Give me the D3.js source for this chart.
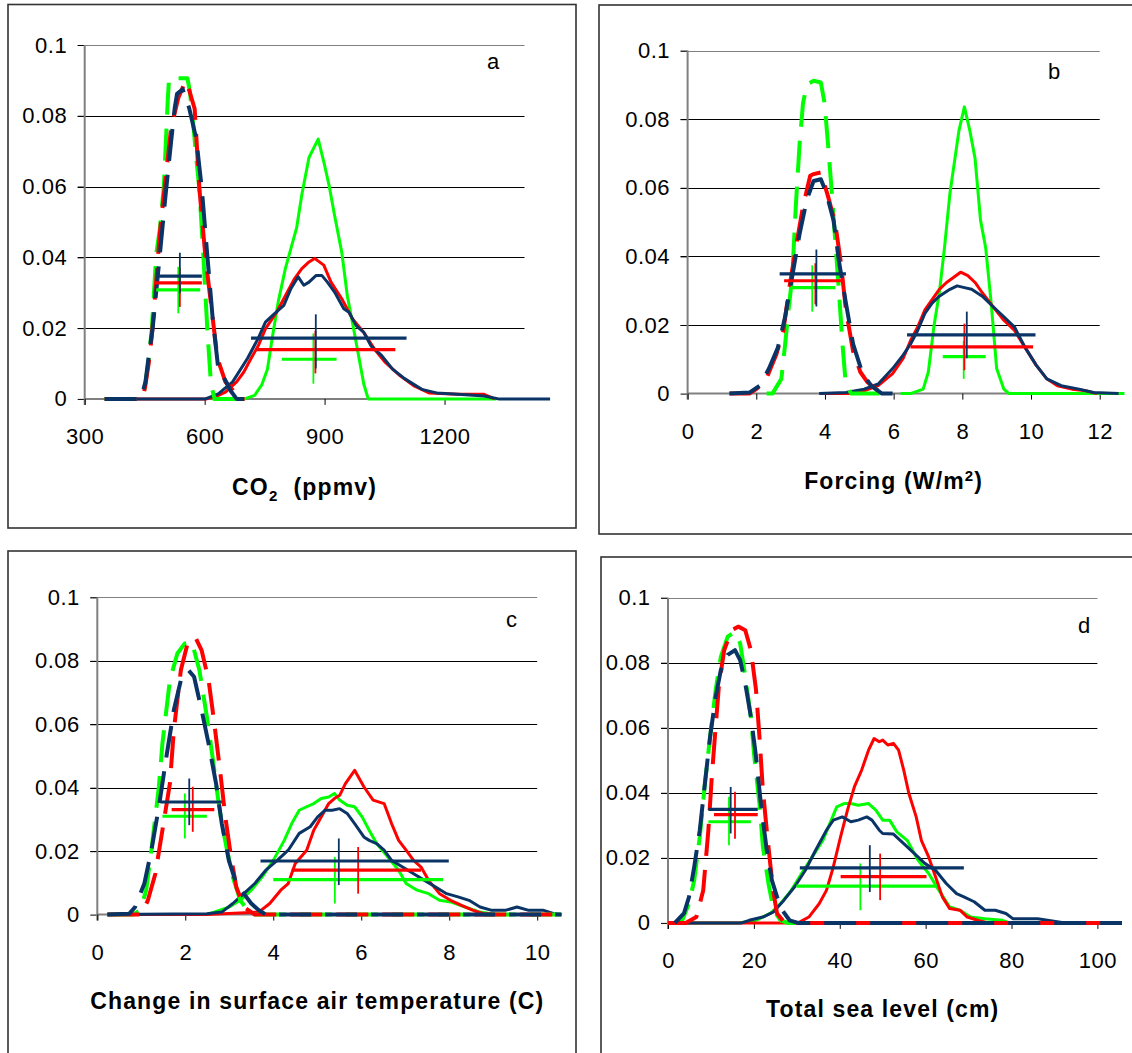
<!DOCTYPE html>
<html><head><meta charset="utf-8">
<script src="https://cdn.jsdelivr.net/npm/d3@7"></script>
<style>
body{margin:0;background:#fff}
svg{display:block}
text{font-family:"Liberation Sans",Arial,sans-serif}
</style>
</head><body>
<svg id="chart" width="1132" height="1053"></svg>
<script>
// ---------- tick labels ----------
const yTicks = [0, 0.02, 0.04, 0.06, 0.08, 0.1];
const aTicks = [300, 600, 900, 1200];
const bTicks = [0, 2, 4, 6, 8, 10, 12];
const cTicks = [0, 2, 4, 6, 8, 10];
const dTicks = [0, 20, 40, 60, 80, 100];

// ---------- panel a : CO2 (ppmv) ----------
const a_dash_green = [[350,0],[440,0],[450,0.003],[460,0.011],[468,0.02],[479,0.041],[488,0.048],[498,0.06],[504,0.075],[508,0.085],[511,0.0906],[557,0.0906],[563,0.087],[572,0.077],[580,0.067],[587,0.059],[597,0.04],[607,0.019],[616,0.004],[625,0],[700,0]];
const a_dash_red = [[350,0],[445,0],[452,0.004],[460,0.01],[468,0.018],[478,0.032],[488,0.047],[502,0.062],[516,0.0764],[534,0.085],[552,0.0898],[562,0.087],[575,0.082],[587,0.0592],[602,0.0401],[616,0.0267],[632,0.0115],[652,0.0048],[679,0.0014],[696,0],[700,0]];
const a_dash_navy = [[350,0],[440,0],[452,0.0048],[460,0.012],[470,0.02],[489,0.042],[502,0.0573],[516,0.0726],[525,0.0821],[531,0.0862],[545,0.0875],[561,0.0823],[579,0.0735],[593,0.0592],[607,0.0401],[620,0.0229],[634,0.0086],[652,0.0052],[665,0.0023],[680,0],[700,0]];
const a_solid_green = [[620,0],[700,0],[725,0.001],[743,0.004],[757,0.0084],[770,0.0179],[784,0.0274],[802,0.0369],[816,0.0426],[830,0.0483],[843,0.0577],[861,0.0682],[884,0.0734],[898,0.067],[912,0.0599],[925,0.0518],[943,0.0414],[957,0.029],[970,0.0214],[984,0.0128],[998,0.0042],[1009,0],[1330,0]];
const a_solid_red = [[350,0],[605,0],[625,0.0005],[652,0.0019],[680,0.0048],[698,0.0076],[716,0.0114],[734,0.015],[752,0.0198],[780,0.0245],[807,0.0302],[825,0.034],[843,0.0368],[861,0.0387],[875,0.0397],[898,0.0378],[916,0.033],[943,0.0283],[970,0.0226],[998,0.0188],[1025,0.014],[1052,0.0103],[1089,0.0065],[1125,0.0036],[1161,0.0017],[1233,0.0013],[1299,0.0013],[1325,0]];
const a_solid_navy = [[350,0],[602,0],[634,0.0014],[670,0.0048],[707,0.0114],[734,0.0171],[752,0.0217],[770,0.0236],[798,0.0264],[816,0.0312],[834,0.0345],[848,0.0321],[861,0.033],[879,0.0349],[893,0.0349],[907,0.033],[925,0.0302],[948,0.0255],[961,0.0245],[979,0.0207],[998,0.0188],[1016,0.015],[1043,0.0122],[1070,0.0084],[1097,0.006],[1116,0.0046],[1143,0.0027],[1180,0.0017],[1234,0.0013],[1299,0.0008],[1335,0],[1464,0]];
// crosshair markers, order: green, red, navy (low scenario), green, red, navy (high scenario)
const aCrossMean   = [534, 538, 538, 872, 877, 878];
const aCrossLow    = [479, 476, 486, 793, 730, 716];
const aCrossHigh   = [589, 593, 593, 930, 1077, 1105];
const aCrossLevel  = [0.0308, 0.0328, 0.0347, 0.0112, 0.0139, 0.0172];
const aCrossTop    = [0.0373, 0.037, 0.0413, 0.0185, 0.0192, 0.0239];
const aCrossBottom = [0.0242, 0.026, 0.0298, 0.0043, 0.0072, 0.0086];

// ---------- panel b : Forcing (W/m2) ----------
const b_dash_green = [[2.3,0],[2.47,0],[2.73,0.0043],[2.84,0.0144],[2.94,0.0244],[3.05,0.0344],[3.15,0.0545],[3.26,0.0726],[3.36,0.0846],[3.47,0.0901],[3.67,0.0912],[3.88,0.0907],[3.99,0.0846],[4.09,0.0726],[4.2,0.0585],[4.3,0.0445],[4.41,0.0294],[4.51,0.0144],[4.61,0.0023],[4.77,0],[5.9,0]];
const b_dash_red = [[1.22,0],[1.8,0],[2.0,0.0013],[2.27,0.0038],[2.58,0.0113],[2.79,0.0184],[2.94,0.0294],[3.15,0.0425],[3.36,0.0545],[3.57,0.0635],[3.67,0.064],[3.88,0.0645],[4.09,0.0575],[4.3,0.0495],[4.46,0.0384],[4.61,0.0244],[4.82,0.0123],[5.03,0.0063],[5.24,0.0033],[5.55,0.0008],[5.76,0]];
const b_dash_navy = [[1.22,0],[1.8,0.0003],[2.1,0.0023],[2.37,0.0073],[2.63,0.0134],[2.84,0.0224],[3.05,0.0344],[3.26,0.0465],[3.47,0.0565],[3.67,0.062],[3.88,0.0625],[4.04,0.0585],[4.25,0.0505],[4.41,0.0384],[4.61,0.0264],[4.82,0.0144],[5.08,0.0063],[5.34,0.0023],[5.66,0],[5.97,0]];
const b_solid_green = [[6.2,0],[6.49,0],[6.86,0.0013],[7.01,0.0063],[7.17,0.0194],[7.33,0.0294],[7.48,0.0425],[7.64,0.0585],[7.8,0.0696],[7.9,0.0766],[8.06,0.0836],[8.22,0.0766],[8.37,0.0686],[8.53,0.0505],[8.68,0.0425],[8.84,0.0264],[9.0,0.0073],[9.21,0.0013],[9.36,0],[12.72,0]];
const b_solid_red = [[3.88,0],[4.72,0],[5.14,0.0008],[5.55,0.0023],[5.97,0.0058],[6.28,0.0103],[6.49,0.0154],[6.7,0.0194],[6.91,0.0244],[7.12,0.0274],[7.33,0.0304],[7.54,0.0324],[7.75,0.0339],[7.95,0.0354],[8.16,0.0344],[8.37,0.0324],[8.58,0.0294],[8.89,0.0254],[9.21,0.0214],[9.52,0.0184],[9.83,0.0134],[10.15,0.0083],[10.46,0.0043],[10.77,0.0023],[11.19,0.0013],[11.61,0.0008],[11.92,0]];
const b_solid_navy = [[3.83,0],[4.61,0.0003],[5.14,0.0013],[5.55,0.0028],[5.97,0.0073],[6.28,0.0113],[6.49,0.0144],[6.7,0.0184],[6.91,0.0234],[7.12,0.0264],[7.33,0.0284],[7.64,0.0304],[7.85,0.0314],[8.06,0.0309],[8.27,0.0304],[8.58,0.0284],[8.89,0.0254],[9.21,0.0224],[9.52,0.0194],[9.83,0.0134],[10.15,0.0083],[10.46,0.0043],[10.88,0.0023],[11.4,0.0013],[11.82,0.0003],[12.55,0]];
const bCrossMean   = [3.63, 3.72, 3.75, 8.04, 8.06, 8.13];
const bCrossLow    = [3.0, 2.81, 2.68, 7.43, 6.49, 6.39];
const bCrossHigh   = [4.3, 4.56, 4.61, 8.68, 10.06, 10.13];
const bCrossLevel  = [0.0309, 0.0329, 0.0349, 0.0108, 0.0136, 0.0171];
const bCrossTop    = [0.0374, 0.038, 0.042, 0.0154, 0.0204, 0.0239];
const bCrossBottom = [0.0239, 0.026, 0.0254, 0.0043, 0.0068, 0.0103];

// ---------- panel c : surface air temperature (C) ----------
const c_dash_green = [[0.23,0],[0.81,0],[0.98,0.0014],[1.11,0.0077],[1.23,0.0203],[1.4,0.0403],[1.48,0.0539],[1.65,0.0739],[1.82,0.0823],[1.99,0.0855],[2.15,0.086],[2.32,0.0771],[2.49,0.0624],[2.62,0.0497],[2.74,0.0371],[2.83,0.0287],[2.95,0.0203],[3.08,0.0119],[3.25,0.0045],[3.5,0],[10.55,0]];
const c_dash_red = [[0.23,0],[1.0,0],[1.15,0.0045],[1.32,0.0129],[1.48,0.0266],[1.65,0.0413],[1.74,0.0581],[1.9,0.0771],[2.07,0.0865],[2.24,0.0871],[2.37,0.0834],[2.53,0.0739],[2.66,0.0603],[2.79,0.0455],[2.91,0.0308],[3.04,0.0182],[3.16,0.0087],[3.33,0.0024],[3.58,0],[10.55,0]];
const c_dash_navy = [[0.23,0],[0.73,0.0003],[0.86,0.0024],[1.07,0.0098],[1.23,0.0203],[1.4,0.034],[1.57,0.0497],[1.74,0.0645],[1.9,0.0739],[2.07,0.0771],[2.2,0.075],[2.37,0.0645],[2.53,0.0539],[2.7,0.0413],[2.83,0.0287],[2.99,0.0171],[3.16,0.0098],[3.33,0.0066],[3.5,0.0035],[3.67,0.0014],[3.83,0],[10.55,0]];
const c_solid_green = [[0.23,0],[2.49,0],[3.0,0.0024],[3.25,0.0045],[3.5,0.0077],[3.75,0.0119],[4.0,0.0171],[4.25,0.0234],[4.42,0.0287],[4.59,0.0329],[4.76,0.034],[4.92,0.035],[5.09,0.0366],[5.26,0.0371],[5.39,0.0382],[5.51,0.0361],[5.68,0.0345],[5.85,0.034],[6.02,0.0308],[6.18,0.0266],[6.35,0.0224],[6.6,0.0182],[6.85,0.014],[7.02,0.0098],[7.27,0.0077],[7.53,0.0066],[7.78,0.0045],[8.03,0.004],[8.36,0.0024],[8.7,0.0008],[8.95,0.0003],[9.2,0],[10.55,0]];
const c_solid_red = [[0.23,0],[2.49,0],[3.67,0.0008],[3.92,0.0035],[4.17,0.0077],[4.34,0.0098],[4.5,0.0161],[4.76,0.0203],[4.92,0.0266],[5.09,0.0308],[5.26,0.035],[5.39,0.0366],[5.51,0.0376],[5.64,0.0413],[5.85,0.0455],[6.06,0.0403],[6.27,0.0361],[6.52,0.035],[6.69,0.0287],[6.85,0.0234],[7.02,0.0203],[7.19,0.0171],[7.36,0.015],[7.53,0.0108],[7.78,0.0066],[8.03,0.0045],[8.28,0.0029],[8.53,0.0014],[8.78,0.0003],[9.04,0],[10.55,0]];
const c_solid_navy = [[0.23,0],[2.49,0.0003],[2.83,0.0008],[3.08,0.0035],[3.33,0.0066],[3.58,0.0098],[3.83,0.014],[4.09,0.0171],[4.34,0.0203],[4.59,0.0256],[4.84,0.0277],[5.01,0.0308],[5.18,0.0329],[5.34,0.0329],[5.51,0.0334],[5.68,0.0319],[5.85,0.0287],[6.06,0.0245],[6.18,0.0234],[6.35,0.0224],[6.52,0.0203],[6.69,0.0171],[6.94,0.015],[7.19,0.0129],[7.44,0.0108],[7.69,0.0087],[7.94,0.0066],[8.2,0.0056],[8.45,0.0045],[8.7,0.0024],[8.95,0.0014],[9.29,0.0014],[9.54,0.0024],[9.79,0.0014],[10.13,0.0014],[10.38,0.0003],[10.55,0]];
const cCrossMean   = [1.99, 2.17, 2.09, 5.4, 5.93, 5.49];
const cCrossLow    = [1.48, 1.69, 1.44, 4.0, 4.42, 3.71];
const cCrossHigh   = [2.49, 2.66, 2.83, 7.86, 7.36, 7.99];
const cCrossLevel  = [0.031, 0.0331, 0.0355, 0.011, 0.014, 0.0169];
const cCrossTop    = [0.0382, 0.0403, 0.0429, 0.0182, 0.0213, 0.024];
const cCrossBottom = [0.024, 0.0261, 0.0282, 0.0035, 0.0066, 0.0093];

// ---------- panel d : total sea level (cm) ----------
const d_dash_green = [[0,0],[2,0],[3.3,0.0008],[4.9,0.0059],[6.1,0.0131],[7.4,0.0265],[8.6,0.0429],[9.8,0.0572],[11.1,0.0716],[12.3,0.0818],[13.9,0.088],[15.6,0.0895],[16.8,0.086],[18.0,0.0757],[19.3,0.0634],[20.1,0.0511],[21.3,0.0367],[22.1,0.0234],[23.4,0.0121],[24.6,0.0039],[26.2,0.0008],[27.9,0],[105.7,0]];
const d_dash_red = [[0,0],[4.1,0],[6.6,0.0018],[8.2,0.01],[9.4,0.0285],[10.2,0.0449],[11.1,0.0603],[11.9,0.0736],[13.1,0.0839],[14.8,0.09],[16.4,0.0911],[18.0,0.09],[19.3,0.0839],[20.5,0.0716],[21.3,0.0572],[22.1,0.0408],[23.0,0.0285],[23.8,0.0183],[24.6,0.009],[25.4,0.0029],[27.0,0.0003],[28.7,0],[105.7,0]];
const d_dash_navy = [[1.6,0],[3.7,0.0029],[4.9,0.008],[6.1,0.0172],[7.4,0.0285],[8.6,0.0429],[9.8,0.0572],[11.1,0.0695],[12.3,0.0777],[13.9,0.0824],[15.6,0.0839],[16.8,0.0808],[18.0,0.0736],[19.3,0.0634],[20.5,0.0511],[21.7,0.0357],[23.0,0.0224],[24.2,0.0131],[25.4,0.008],[26.6,0.0039],[28.3,0.0008],[30.3,0],[105.7,0]];
const d_solid_green = [[0,0],[16.4,0],[20.5,0.0008],[23.8,0.0029],[26.2,0.0059],[28.7,0.01],[31.1,0.0152],[33.6,0.0203],[36.1,0.0254],[37.7,0.0306],[39.3,0.0357],[41.0,0.0367],[42.6,0.0367],[44.3,0.0362],[46.7,0.0367],[48.4,0.0347],[50.0,0.0316],[51.6,0.0316],[53.3,0.028],[55.7,0.0254],[58.2,0.0193],[60.7,0.0152],[63.1,0.01],[65.6,0.0049],[68.0,0.0039],[70.5,0.0018],[73.8,0.0013],[77.9,0.0008],[79.5,0]];
const d_solid_red = [[0,0],[30.3,0],[32.8,0.0018],[35.2,0.0059],[36.9,0.01],[38.5,0.0172],[40.2,0.0265],[41.8,0.0347],[43.4,0.0418],[45.1,0.047],[46.7,0.0531],[48.0,0.0567],[49.2,0.0557],[50.0,0.0562],[51.2,0.0547],[52.5,0.0552],[53.7,0.0531],[54.9,0.047],[56.1,0.0398],[57.8,0.0326],[59.0,0.0254],[60.7,0.0203],[62.3,0.0142],[63.9,0.008],[65.6,0.0044],[68.0,0.0039],[69.7,0.0018],[72.1,0.0008],[74.6,0]];
const d_solid_navy = [[0,0],[17.2,0],[18.9,0.0008],[22.1,0.0018],[24.6,0.0034],[27.0,0.007],[29.5,0.0111],[32.0,0.0162],[34.4,0.0224],[36.9,0.0285],[38.5,0.0316],[40.6,0.0326],[42.6,0.0311],[44.3,0.0316],[46.3,0.0326],[47.5,0.0316],[49.2,0.0285],[50.0,0.0275],[52.5,0.0273],[54.9,0.0244],[57.4,0.0213],[59.8,0.0183],[62.3,0.0162],[64.8,0.0121],[67.2,0.009],[68.9,0.008],[71.3,0.0065],[73.8,0.0039],[76.2,0.0039],[78.7,0.0029],[80.3,0.0013],[86.1,0.0013],[91.0,0.0003],[92.5,0],[105.7,0]];
const dCrossMean   = [14.2, 15.6, 14.6, 44.8, 49.4, 47.0];
const dCrossLow    = [9.4, 10.7, 9.4, 29.9, 40.2, 30.7];
const dCrossHigh   = [19.3, 20.9, 20.9, 62.7, 60.2, 68.9];
const dCrossLevel  = [0.0311, 0.0333, 0.0349, 0.0113, 0.0142, 0.0169];
const dCrossTop    = [0.0388, 0.0403, 0.0418, 0.0183, 0.0213, 0.0239];
const dCrossBottom = [0.0239, 0.0259, 0.0275, 0.0039, 0.007, 0.0095];

// ---------- styling / layout ----------
const GREEN = "#00ff00", RED = "#ff0000", NAVY = "#0b3466";
const seriesColors = [GREEN, RED, NAVY];
const crossColors = [GREEN, RED, NAVY, GREEN, RED, NAVY];

const panels = [
  { letter:"a", frame:[8,4.5,576,528], xr:[84.7,524.5], yr:[398.9,45], xdom:[300,1400], ticks:aTicks,
    dashed:[a_dash_green,a_dash_red,a_dash_navy], solid:[a_solid_green,a_solid_red,a_solid_navy],
    cross:[aCrossMean,aCrossLow,aCrossHigh,aCrossLevel,aCrossTop,aCrossBottom],
    title:"co2", titleY:495, letterXY:[487,69] },
  { letter:"b", frame:[599,5,1145,534], xr:[687.6,1099.7], yr:[393.6,50.6], xdom:[0,12], ticks:bTicks,
    dashed:[b_dash_green,b_dash_red,b_dash_navy], solid:[b_solid_green,b_solid_red,b_solid_navy],
    cross:[bCrossMean,bCrossLow,bCrossHigh,bCrossLevel,bCrossTop,bCrossBottom],
    title:"forcing", titleY:489, letterXY:[1048,79] },
  { letter:"c", frame:[8,551,576,1065], xr:[97.3,537.2], yr:[914.6,597.4], xdom:[0,10], ticks:cTicks,
    dashed:[c_dash_green,c_dash_red,c_dash_navy], solid:[c_solid_green,c_solid_red,c_solid_navy],
    cross:[cCrossMean,cCrossLow,cCrossHigh,cCrossLevel,cCrossTop,cCrossBottom],
    title:"temp", titleY:1008.5, letterXY:[506,627] },
  { letter:"d", frame:[601,557,1145,1065], xr:[668,1097.4], yr:[922.9,597.7], xdom:[0,100], ticks:dTicks,
    dashed:[d_dash_green,d_dash_red,d_dash_navy], solid:[d_solid_green,d_solid_red,d_solid_navy],
    cross:[dCrossMean,dCrossLow,dCrossHigh,dCrossLevel,dCrossTop,dCrossBottom],
    title:"sea", titleY:1017, letterXY:[1078,633] }
];

const svg = d3.select("#chart");
const TICKFS = 22, TITLEFS = 23;

panels.forEach(p => {
  const g = svg.append("g");
  const [fx0, fy0, fx1, fy1] = p.frame;
  g.append("rect").attr("x", fx0).attr("y", fy0).attr("width", fx1 - fx0).attr("height", fy1 - fy0)
    .attr("fill", "#fff").attr("stroke", "#333").attr("stroke-width", 1.6);

  const x = d3.scaleLinear().domain(p.xdom).range(p.xr);
  const y = d3.scaleLinear().domain([0, 0.1]).range(p.yr);
  const x0 = p.xr[0], x1 = p.xr[1];

  // gridlines (with outside tick marks)
  g.append("g").selectAll("line").data(yTicks.filter(t => t > 0)).join("line")
    .attr("x1", x0 - 7).attr("x2", x1)
    .attr("y1", d => Math.round(y(d)) + 0.5).attr("y2", d => Math.round(y(d)) + 0.5)
    .attr("stroke", d => d === 0.1 ? "#808080" : "#000").attr("stroke-width", 1);

  // y axis labels via d3 axis
  const ya = g.append("g").attr("transform", `translate(${x0},0)`)
    .call(d3.axisLeft(y).tickValues(yTicks).tickFormat(d3.format("~g")).tickSize(7).tickPadding(10.5));
  ya.select(".domain").remove();
  ya.selectAll(".tick line").attr("stroke", "#000");
  ya.selectAll("text").attr("font-size", TICKFS).attr("fill", "#000")
    .attr("font-family", "Liberation Sans, Arial, sans-serif").attr("letter-spacing", 0.5);
  g.append("line").attr("x1", x0).attr("x2", x0).attr("y1", y(0.1)).attr("y2", y(0) + 6)
    .attr("stroke", "#808080").attr("stroke-width", 2);

  // x axis
  const xa = g.append("g").attr("transform", `translate(0,${y(0)})`)
    .call(d3.axisBottom(x).tickValues(p.ticks).tickFormat(d3.format("d")).tickSize(6).tickPadding(23.4));
  xa.select(".domain").attr("stroke", "#808080").attr("stroke-width", 2)
    .attr("d", `M${x0},0H${x1}`);
  xa.selectAll(".tick line").attr("stroke", "#000");
  xa.selectAll("text").attr("font-size", TICKFS).attr("fill", "#000")
    .attr("font-family", "Liberation Sans, Arial, sans-serif").attr("letter-spacing", 0.5);

  const line = d3.line().x(d => x(d[0])).y(d => y(d[1]));

  // solid (high scenario) curves
  p.solid.forEach((s, i) => {
    g.append("path").datum(s).attr("d", line).attr("fill", "none")
      .attr("stroke", seriesColors[i]).attr("stroke-width", 3).attr("stroke-linejoin", "round");
  });
  // dashed (low scenario) curves
  p.dashed.forEach((s, i) => {
    g.append("path").datum(s).attr("d", line).attr("fill", "none")
      .attr("stroke", seriesColors[i]).attr("stroke-width", 4)
      .attr("stroke-dasharray", "32,14").attr("stroke-linejoin", "round");
  });

  // crosshair markers (mean ± spread)
  const [cm, cl, ch, lev, top, bot] = p.cross;
  cm.forEach((m, i) => {
    g.append("line").attr("x1", x(cl[i])).attr("x2", x(ch[i])).attr("y1", y(lev[i])).attr("y2", y(lev[i]))
      .attr("stroke", crossColors[i]).attr("stroke-width", 3.2);
    g.append("line").attr("x1", x(m)).attr("x2", x(m)).attr("y1", y(top[i])).attr("y2", y(bot[i]))
      .attr("stroke", crossColors[i]).attr("stroke-width", 1.8);
  });

  // panel letter
  g.append("text").attr("x", p.letterXY[0]).attr("y", p.letterXY[1])
    .attr("font-size", 22).attr("fill", "#000").text(p.letter);

  // axis title
  const cx = (x0 + x1) / 2;
  const t = g.append("text").attr("x", cx).attr("y", p.titleY).attr("text-anchor", "middle")
    .attr("font-size", TITLEFS).attr("font-weight", "bold").attr("letter-spacing", 1.15)
    .style("white-space", "pre").attr("fill", "#000");
  if (p.title === "co2") {
    t.append("tspan").text("CO");
    t.append("tspan").attr("font-size", 15).attr("dy", 6).text("2");
    t.append("tspan").attr("dy", -6).text("  (ppmv)");
  } else if (p.title === "forcing") {
    t.append("tspan").text("Forcing (W/m");
    t.append("tspan").attr("font-size", 15).attr("dy", -8).text("2");
    t.append("tspan").attr("dy", 8).text(")");
  } else if (p.title === "temp") {
    t.text("Change in surface air temperature (C)");
  } else {
    t.text("Total sea level (cm)");
  }
});
</script>
</body></html>
